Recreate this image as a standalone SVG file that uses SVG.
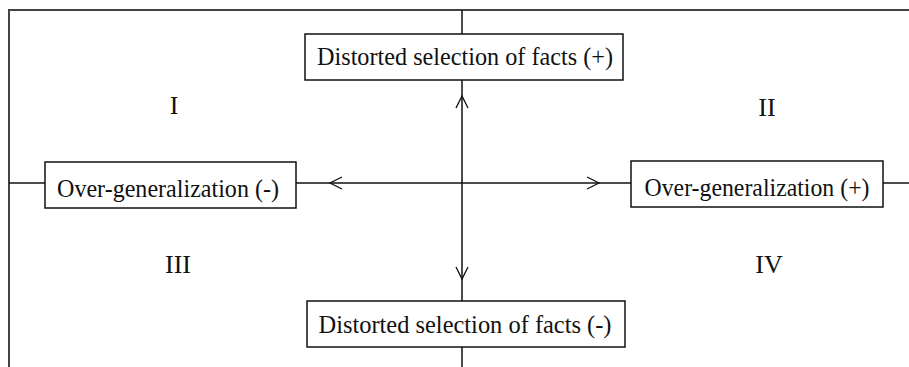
<svg xmlns="http://www.w3.org/2000/svg" width="909" height="367" viewBox="0 0 909 367">
<style>
.box{fill:#fff;stroke:#111;stroke-width:1.5}
.ln{fill:none;stroke:#111;stroke-width:1.5}
.ah{fill:none;stroke:#111;stroke-width:1.3}
.frame{fill:none;stroke:#444;stroke-width:2}
text{font-family:"Liberation Serif","Times New Roman",serif;font-size:26px;fill:#111;text-anchor:middle}
</style>
<rect width="909" height="367" fill="#fff"/>
<path class="frame" d="M9,367 V10 H909"/>
<g id="connectors">
<path class="ln" d="M462,10 V34"/>
<path class="ln" d="M462,80 V301"/>
<path class="ln" d="M462,347 V367"/>
<path class="ln" d="M9,183 H45"/>
<path class="ln" d="M296,183 H631"/>
<path class="ln" d="M883,183 H909"/>
<polyline class="ah" points="456,108 462,96 468,108"/>
<polyline class="ah" points="456,267 462,279 468,267"/>
<polyline class="ah" points="342,177 330,183 342,189"/>
<polyline class="ah" points="587,177 599,183 587,189"/>
</g>
<g id="top">
<rect class="box" x="305" y="34" width="318" height="46"/>
<text x="465" y="65" textLength="296" lengthAdjust="spacingAndGlyphs">Distorted selection of facts (+)</text>
</g>
<g id="bottom">
<rect class="box" x="307" y="301" width="318" height="46"/>
<text x="465" y="333" textLength="293" lengthAdjust="spacingAndGlyphs">Distorted selection of facts (-)</text>
</g>
<g id="left">
<rect class="box" x="45" y="162" width="251" height="46"/>
<text x="168" y="197" textLength="222" lengthAdjust="spacingAndGlyphs">Over-generalization (-)</text>
</g>
<g id="right">
<rect class="box" x="631" y="161" width="252" height="46"/>
<text x="757" y="196" textLength="225" lengthAdjust="spacingAndGlyphs">Over-generalization (+)</text>
</g>
<g id="quadrants">
<text x="174" y="114">I</text>
<text x="767" y="116">II</text>
<text x="178" y="273">III</text>
<text x="769" y="273">IV</text>
</g>
</svg>
